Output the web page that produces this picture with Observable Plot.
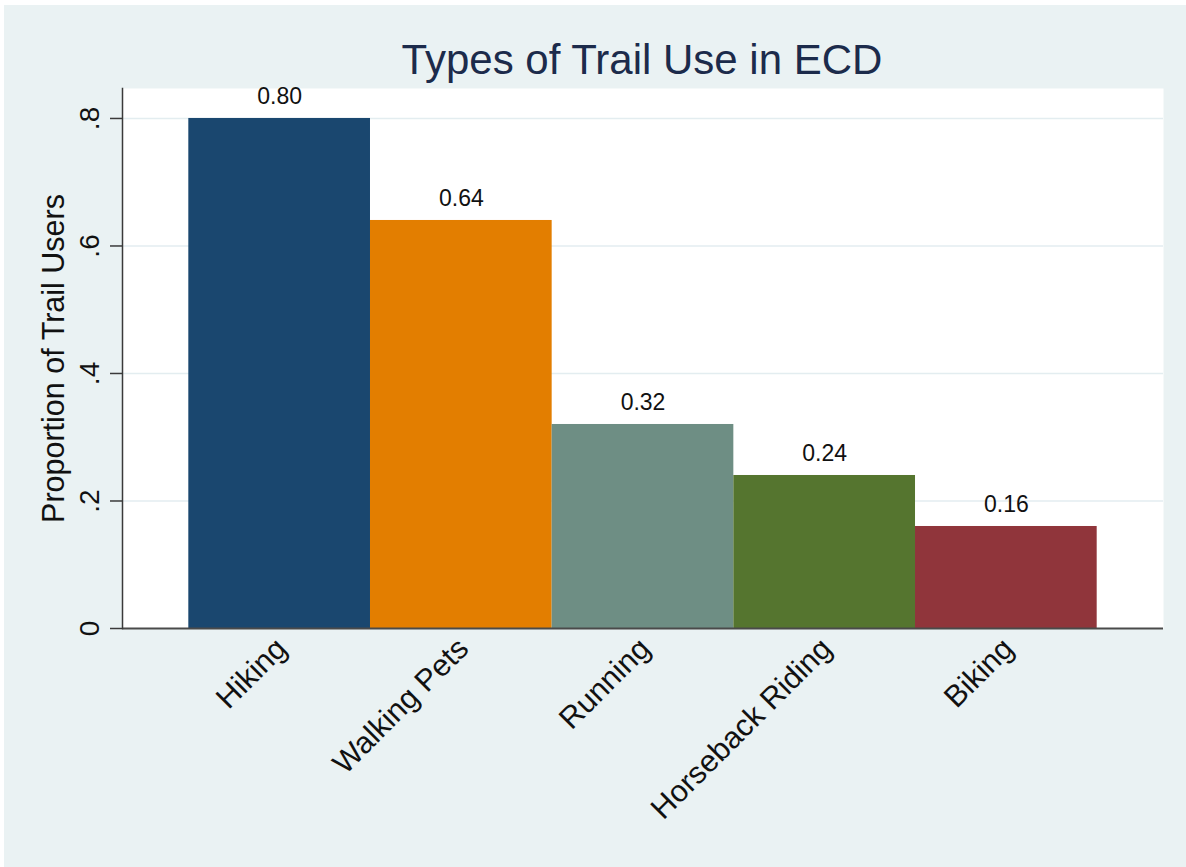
<!DOCTYPE html>
<html>
<head>
<meta charset="utf-8">
<script src="https://cdn.jsdelivr.net/npm/d3@7"></script>
<script src="https://cdn.jsdelivr.net/npm/@observablehq/plot@0.6"></script>
<style>
  html, body { margin: 0; padding: 0; background: #ffffff; }
  #wrap { position: absolute; left: 4px; top: 5px; width: 1182px; height: 862px; background: #eaf2f3; overflow: hidden; }
  #title { position: absolute; left: 0; width: 1276px; top: 30px; text-align: center; font-family: Arial, "Liberation Sans", sans-serif; font-size: 42px; color: #1c2b4b; line-height: 50px; }
  #chart { position: absolute; left: 0; top: 0; }
</style>
</head>
<body>
<div id="wrap">
  <div id="title">Types of Trail Use in ECD</div>
  <div id="chart"></div>
</div>
<script>
const categories = ["Hiking", "Walking Pets", "Running", "Horseback Riding", "Biking"];
const values = [0.80, 0.64, 0.32, 0.24, 0.16];
const barColors = ["#1a476f", "#e37e00", "#6e8e84", "#55752f", "#90353b"];
const yTicks = [0, 0.2, 0.4, 0.6, 0.8];
const yTickLabels = ["0", ".2", ".4", ".6", ".8"];
const yTitle = "Proportion of Trail Users";

const data = categories.map((c, i) => ({category: c, value: values[i]}));
const tickData = yTicks.map((t, i) => ({t, label: yTickLabels[i]}));
const font = 'Arial, "Liberation Sans", sans-serif';

const chart = Plot.plot({
  width: 1182,
  height: 862,
  marginLeft: 118,
  marginRight: 23,
  marginTop: 83,
  marginBottom: 239,
  style: {background: "transparent", fontFamily: font, overflow: "visible"},
  x: {domain: categories, paddingInner: 0, paddingOuter: 0.365, round: false, axis: null},
  y: {domain: [0, 0.847], axis: null},
  color: {domain: categories, range: barColors},
  marks: [
    Plot.frame({fill: "white", stroke: null}),
    Plot.gridY(yTicks.filter(t => t > 0), {stroke: "#e3edf0", strokeOpacity: 1, strokeWidth: 1.5}),
    Plot.barY(data, {x: "category", y: "value", fill: "category", inset: 0}),
    Plot.text(data, {x: "category", y: "value", text: d => d3.format(".2f")(d.value), dy: -14, lineAnchor: "bottom", fontSize: 23, fill: "#111"}),
    Plot.ruleY([0], {stroke: "#4a4a4a", strokeWidth: 2}),
    Plot.frame({anchor: "left", stroke: "#3a3a3a", strokeWidth: 1.5}),
    Plot.axisY({ticks: yTicks, tickSize: 12, tickFormat: () => "", stroke: "#3a3a3a", strokeWidth: 1.5}),
    Plot.text(tickData, {y: "t", text: "label", frameAnchor: "left", dx: -24, rotate: -90, textAnchor: "middle", lineAnchor: "bottom", fontSize: 28, fill: "#111"}),
    Plot.text([yTitle], {frameAnchor: "left", dx: -59, rotate: -90, textAnchor: "middle", lineAnchor: "bottom", fontSize: 30.5, fill: "#111"}),
    Plot.text(categories, {x: d => d, y: 0, text: d => d, rotate: -45, textAnchor: "end", lineAnchor: "middle", dx: 2, dy: 15, fontSize: 30.5, fill: "#111"})
  ]
});
document.getElementById("chart").appendChild(chart);
</script>
</body>
</html>
